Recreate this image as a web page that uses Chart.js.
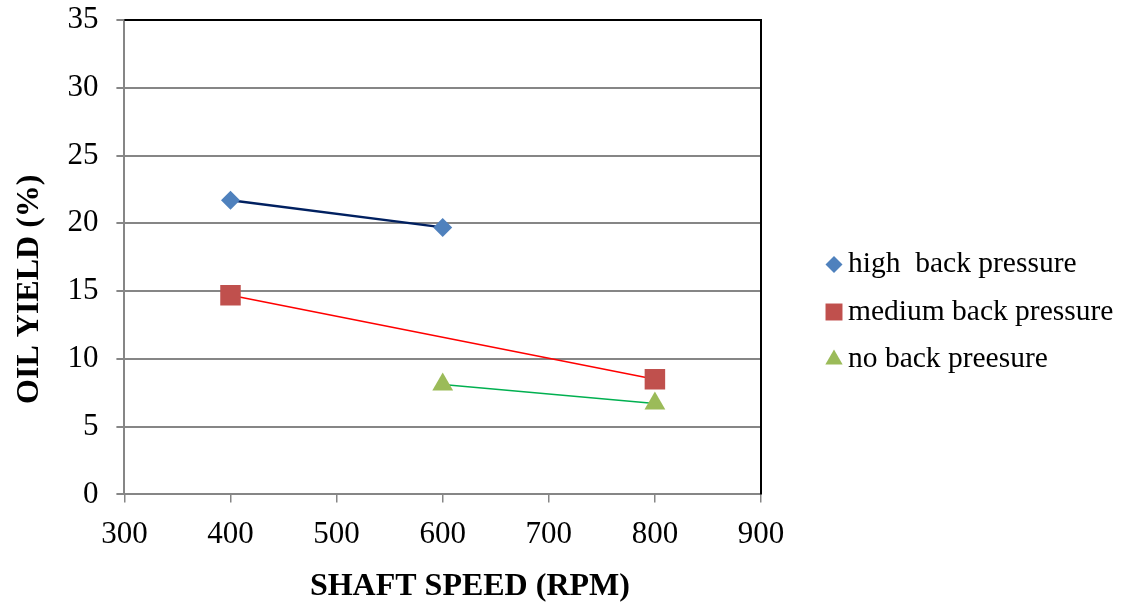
<!DOCTYPE html>
<html>
<head>
<meta charset="utf-8">
<script src="https://cdn.jsdelivr.net/npm/chart.js@4.4.0/dist/chart.umd.min.js"></script>
<style>
  html, body { margin: 0; padding: 0; background: #fff; }
  #wrap { width: 1122px; height: 610px; }
</style>
</head>
<body>
<div id="wrap"><canvas id="yieldChart" width="1122" height="610"></canvas></div>
<script>
/* Oil yield vs shaft speed */
var seriesNames = ['high  back pressure', 'medium back pressure', 'no back preesure'];
var highSpeed   = [400, 600];
var highYield   = [21.7, 19.7];
var mediumSpeed = [400, 800];
var mediumYield = [14.7, 8.5];
var noSpeed     = [600, 800];
var noYield     = [8.1, 6.7];
var xTicks = [300, 400, 500, 600, 700, 800, 900];
var yTicks = [0, 5, 10, 15, 20, 25, 30, 35];

function pts(xs, ys) {
    return xs.map(function(x, i) { return { x: x, y: ys[i] }; });
}

var serif = '"Liberation Serif", "Times New Roman", serif';
var gridGrey = '#868686';
var enSp = '\u2002';

// black top + right frame like the original
var frame = {
    id: 'frame',
    beforeDatasetsDraw: function(chart) {
        var a = chart.chartArea, c = chart.ctx;
        c.save();
        c.strokeStyle = '#000';
        c.lineWidth = 2;
        c.beginPath();
        c.moveTo(a.left, a.top);
        c.lineTo(a.right, a.top);
        c.lineTo(a.right, a.bottom);
        c.stroke();
        c.restore();
    }
};

// legend to the right of the plot (built-in one gets squeezed at this width)
var sideLegend = {
    id: 'sideLegend',
    afterDraw: function(chart) {
        var a = chart.chartArea, c = chart.ctx;
        var legendRadius = { rectRot: 8.5, rect: 12, triangle: 10 };
        var gap = 47.5, cy = chart.height / 2 + 7;
        var n = chart.data.datasets.length;
        c.save();
        c.font = '29.5px ' + serif;
        c.textBaseline = 'middle';
        c.textAlign = 'left';
        chart.data.datasets.forEach(function(ds, i) {
            var y = cy + (i - (n - 1) / 2) * gap;
            var mx = a.right + 73;
            c.fillStyle = ds.pointBackgroundColor;
            c.strokeStyle = ds.pointBackgroundColor;
            Chart.helpers.drawPoint(c, { pointStyle: ds.pointStyle, rotation: 0, radius: legendRadius[ds.pointStyle], borderWidth: 0 }, mx, y);
            c.fillStyle = '#000';
            c.fillText(ds.label, a.right + 87, y);
        });
        c.restore();
    }
};

new Chart(document.getElementById('yieldChart').getContext('2d'), {
    type: 'scatter',
    data: {
        datasets: [
            { label: seriesNames[0], data: pts(highSpeed, highYield), showLine: true, borderColor: '#002060', borderWidth: 2.5,
              pointStyle: 'rectRot', pointRadius: 9.5, pointHoverRadius: 9.5, pointBackgroundColor: '#4F81BD', pointBorderColor: '#4F81BD', pointBorderWidth: 0 },
            { label: seriesNames[1], data: pts(mediumSpeed, mediumYield), showLine: true, borderColor: '#FF0000', borderWidth: 1.5,
              pointStyle: 'rect', pointRadius: 14.5, pointHoverRadius: 14.5, pointBackgroundColor: '#C0504D', pointBorderColor: '#C0504D', pointBorderWidth: 0 },
            { label: seriesNames[2], data: pts(noSpeed, noYield), showLine: true, borderColor: '#00B050', borderWidth: 1.5,
              pointStyle: 'triangle', pointRadius: 12, pointHoverRadius: 12, pointBackgroundColor: '#9BBB59', pointBorderColor: '#9BBB59', pointBorderWidth: 0 }
        ]
    },
    options: {
        responsive: false,
        animation: false,
        layout: { padding: { left: 7, right: 361, top: 0, bottom: 0 } },
        plugins: {
            tooltip: { enabled: false },
            legend: { display: false }
        },
        scales: {
            x: {
                type: 'linear', min: 300, max: 900,
                afterBuildTicks: function(axis) { axis.ticks = xTicks.map(function(v) { return { value: v }; }); },
                grid: { drawOnChartArea: false, drawTicks: true, tickLength: 8, color: gridGrey, lineWidth: 1.5 },
                border: { color: gridGrey, width: 2 },
                ticks: { color: '#000', padding: 14, font: { family: serif, size: 31 }, maxRotation: 0 },
                // leading spaces nudge the title right, as in the original
                title: { display: true, text: enSp + enSp + enSp + '\u2009' + 'SHAFT SPEED (RPM)', color: '#000', padding: { top: 0 }, font: { family: serif, size: 32, weight: 'bold' } }
            },
            y: {
                min: 0, max: 35,
                afterBuildTicks: function(axis) { axis.ticks = yTicks.map(function(v) { return { value: v }; }); },
                // tick padding would otherwise push the plot top down
                afterFit: function(axis) { axis.paddingTop = 20; },
                grid: { drawTicks: true, tickLength: 8, color: gridGrey, lineWidth: 2 },
                border: { color: gridGrey, width: 2 },
                ticks: { color: '#000', padding: 18, font: { family: serif, size: 31 } },
                title: { display: true, text: 'OIL YIELD (%)' + enSp + enSp + enSp + enSp, color: '#000', padding: { bottom: 0 }, font: { family: serif, size: 32, weight: 'bold' } }
            }
        }
    },
    plugins: [frame, sideLegend]
});
</script>
</body>
</html>
